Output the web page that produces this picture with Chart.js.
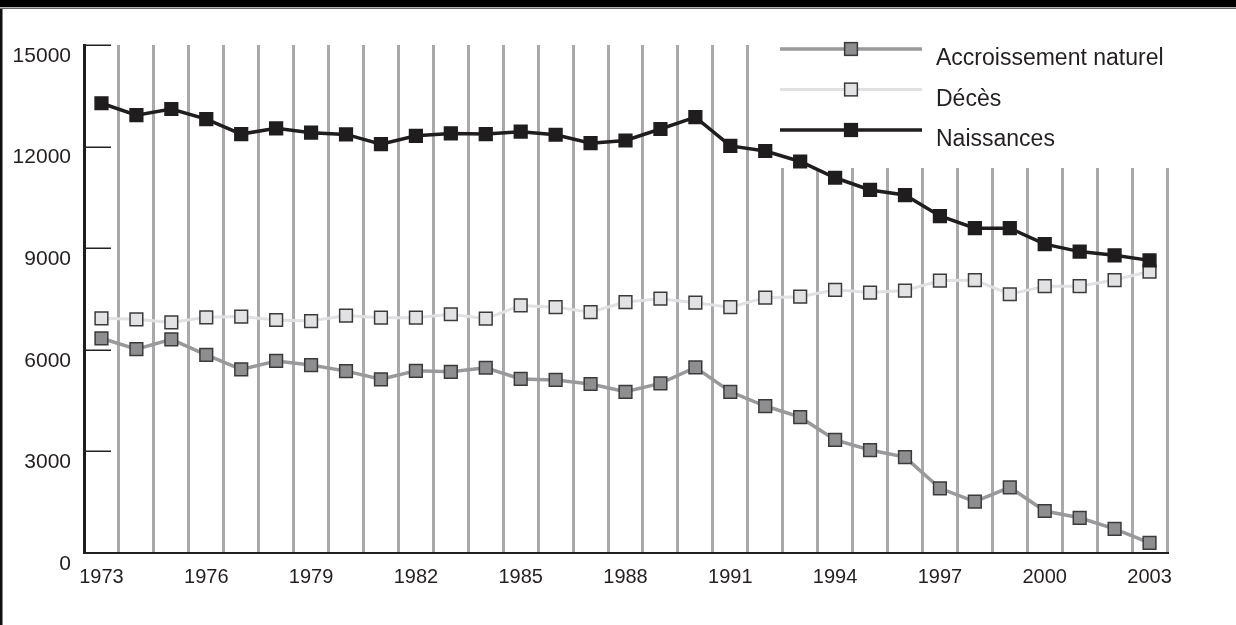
<!DOCTYPE html>
<html lang="fr">
<head>
<meta charset="utf-8">
<title>Naissances, décès et accroissement naturel, 1973-2003</title>
<script src="https://cdn.jsdelivr.net/npm/chart.js@4.4.1/dist/chart.umd.min.js"></script>
<style>
  html, body { margin: 0; padding: 0; background: #fff; }
  canvas { display: block; }
</style>
</head>
<body>
<canvas id="graphique" width="1236" height="625"></canvas>
<script>
// Données
const annees = ['1973', '1974', '1975', '1976', '1977', '1978', '1979', '1980', '1981', '1982',
  '1983', '1984', '1985', '1986', '1987', '1988', '1989', '1990', '1991', '1992',
  '1993', '1994', '1995', '1996', '1997', '1998', '1999', '2000', '2001', '2002', '2003'];

const anneesAffichees = ['1973', '1976', '1979', '1982', '1985', '1988', '1991', '1994', '1997', '2000', '2003'];

const accroissement = [6340, 6020, 6310, 5850, 5420, 5670, 5550, 5370, 5130, 5380,
  5350, 5470, 5140, 5110, 4990, 4760, 5010, 5480, 4760, 4340,
  4010, 3340, 3040, 2830, 1910, 1520, 1940, 1240, 1040, 710, 300];

const deces = [6930, 6900, 6810, 6960, 6980, 6880, 6850, 7010, 6950, 6950,
  7050, 6920, 7310, 7260, 7110, 7410, 7510, 7390, 7260, 7540,
  7570, 7770, 7690, 7750, 8040, 8060, 7640, 7880, 7880, 8060, 8310];

const naissances = [13280, 12930, 13110, 12810, 12370, 12540, 12410, 12360, 12070, 12320,
  12390, 12370, 12440, 12350, 12100, 12180, 12520, 12870, 12020, 11870,
  11560, 11080, 10720, 10570, 9950, 9590, 9590, 9120, 8900, 8790, 8640];

const POLICE = "'Liberation Sans', Arial, sans-serif";
const NOIR = '#1f1d1d';

function serie(label, data, ligne, remplissage, bord, largeur, ordre) {
  return {
    label: label,
    data: data,
    borderColor: ligne,
    borderWidth: largeur,
    backgroundColor: remplissage,
    pointStyle: 'rect',
    pointRadius: 9,
    pointHoverRadius: 9,
    pointBackgroundColor: remplissage,
    pointBorderColor: bord,
    pointBorderWidth: 1.5,
    tension: 0,
    order: ordre
  };
}

// cadre de la page : bandeau noir en haut et filet à gauche
const cadre = {
  id: 'cadre',
  beforeDraw(chart) {
    const ctx = chart.ctx;
    ctx.save();
    ctx.fillStyle = '#fff';
    ctx.fillRect(0, 0, chart.width, chart.height);
    ctx.fillStyle = '#000';
    ctx.fillRect(0, 0, chart.width, 7);
    ctx.fillStyle = '#6a6a6a';
    ctx.fillRect(0, 7.5, chart.width, 1.5);
    ctx.fillStyle = '#111';
    ctx.fillRect(0, 9, 2.5, chart.height - 9);
    ctx.restore();
  }
};

// petits traits de graduation vers l'intérieur + légende dans la zone du graphique
const legendeInterne = {
  id: 'legendeInterne',
  beforeDatasetsDraw(chart) {
    const ctx = chart.ctx;
    const area = chart.chartArea;
    const y = chart.scales.y;

    ctx.save();
    ctx.strokeStyle = '#222';
    ctx.lineWidth = 1.5;
    ctx.beginPath();
    y.ticks.forEach(t => {
      const py = Math.round(y.getPixelForValue(t.value)) + 0.25;
      ctx.moveTo(area.left, py);
      ctx.lineTo(area.left + 27, py);
    });
    ctx.stroke();

    // fond blanc : la grille s'arrête sous la légende
    ctx.fillStyle = '#fff';
    ctx.fillRect(757, area.top - 2, area.right + 6 - 757, 168 - area.top + 2);

    const x0 = 780, x1 = 922, xm = 851, xt = 936;
    chart.data.datasets.forEach((ds, i) => {
      const ly = 49 + i * 40.5;
      ctx.strokeStyle = ds.borderColor;
      ctx.lineWidth = ds.borderWidth;
      ctx.beginPath();
      ctx.moveTo(x0, ly);
      ctx.lineTo(x1, ly);
      ctx.stroke();

      const s = Math.SQRT1_2 * ds.pointRadius;
      ctx.fillStyle = ds.pointBackgroundColor;
      ctx.fillRect(xm - s, ly - s, 2 * s, 2 * s);
      ctx.strokeStyle = ds.pointBorderColor;
      ctx.lineWidth = ds.pointBorderWidth;
      ctx.strokeRect(xm - s, ly - s, 2 * s, 2 * s);

      ctx.fillStyle = '#231f20';
      ctx.font = "23px " + POLICE;
      ctx.textAlign = 'left';
      ctx.textBaseline = 'middle';
      ctx.fillText(ds.label, xt, ly + 10);
    });
    ctx.restore();
  }
};

const graphique = new Chart(document.getElementById('graphique'), {
  type: 'line',
  data: {
    labels: annees,
    datasets: [
      serie('Accroissement naturel', accroissement, '#99999b', '#8e8e90', '#3a3a3a', 3.5, 2),
      serie('Décès', deces, '#e1e1e3', '#e2e2e4', '#3a3a3a', 3, 1),
      serie('Naissances', naissances, NOIR, NOIR, NOIR, 3.5, 0)
    ]
  },
  options: {
    responsive: false,
    animation: false,
    layout: { padding: { left: 0, top: 45, right: 69, bottom: 32 } },
    plugins: {
      legend: { display: false },
      tooltip: { enabled: false }
    },
    scales: {
      x: {
        offset: true,
        grid: {
          offset: true,
          drawTicks: false,
          lineWidth: 3,
          color: c => c.index === 0 ? 'rgba(0,0,0,0)' : '#a9a9ab'
        },
        border: { display: true, color: NOIR, width: 2 },
        ticks: {
          autoSkip: false,
          maxRotation: 0,
          padding: 12,
          color: '#231f20',
          font: { family: POLICE, size: 20 },
          callback: function (v) {
            const a = this.getLabelForValue(v);
            return anneesAffichees.includes(a) ? a : '';
          }
        },
        afterFit: s => { s.height = 40; }
      },
      y: {
        min: 0,
        max: 15000,
        grid: { drawOnChartArea: false, drawTicks: false },
        border: { display: true, color: NOIR, width: 3 },
        ticks: {
          stepSize: 3000,
          padding: 13,
          labelOffset: 11,
          color: '#231f20',
          font: { family: POLICE, size: 21 },
          callback: v => String(v)
        },
        afterFit: s => { s.width = 84; }
      }
    }
  },
  plugins: [cadre, legendeInterne]
});
</script>
</body>
</html>
